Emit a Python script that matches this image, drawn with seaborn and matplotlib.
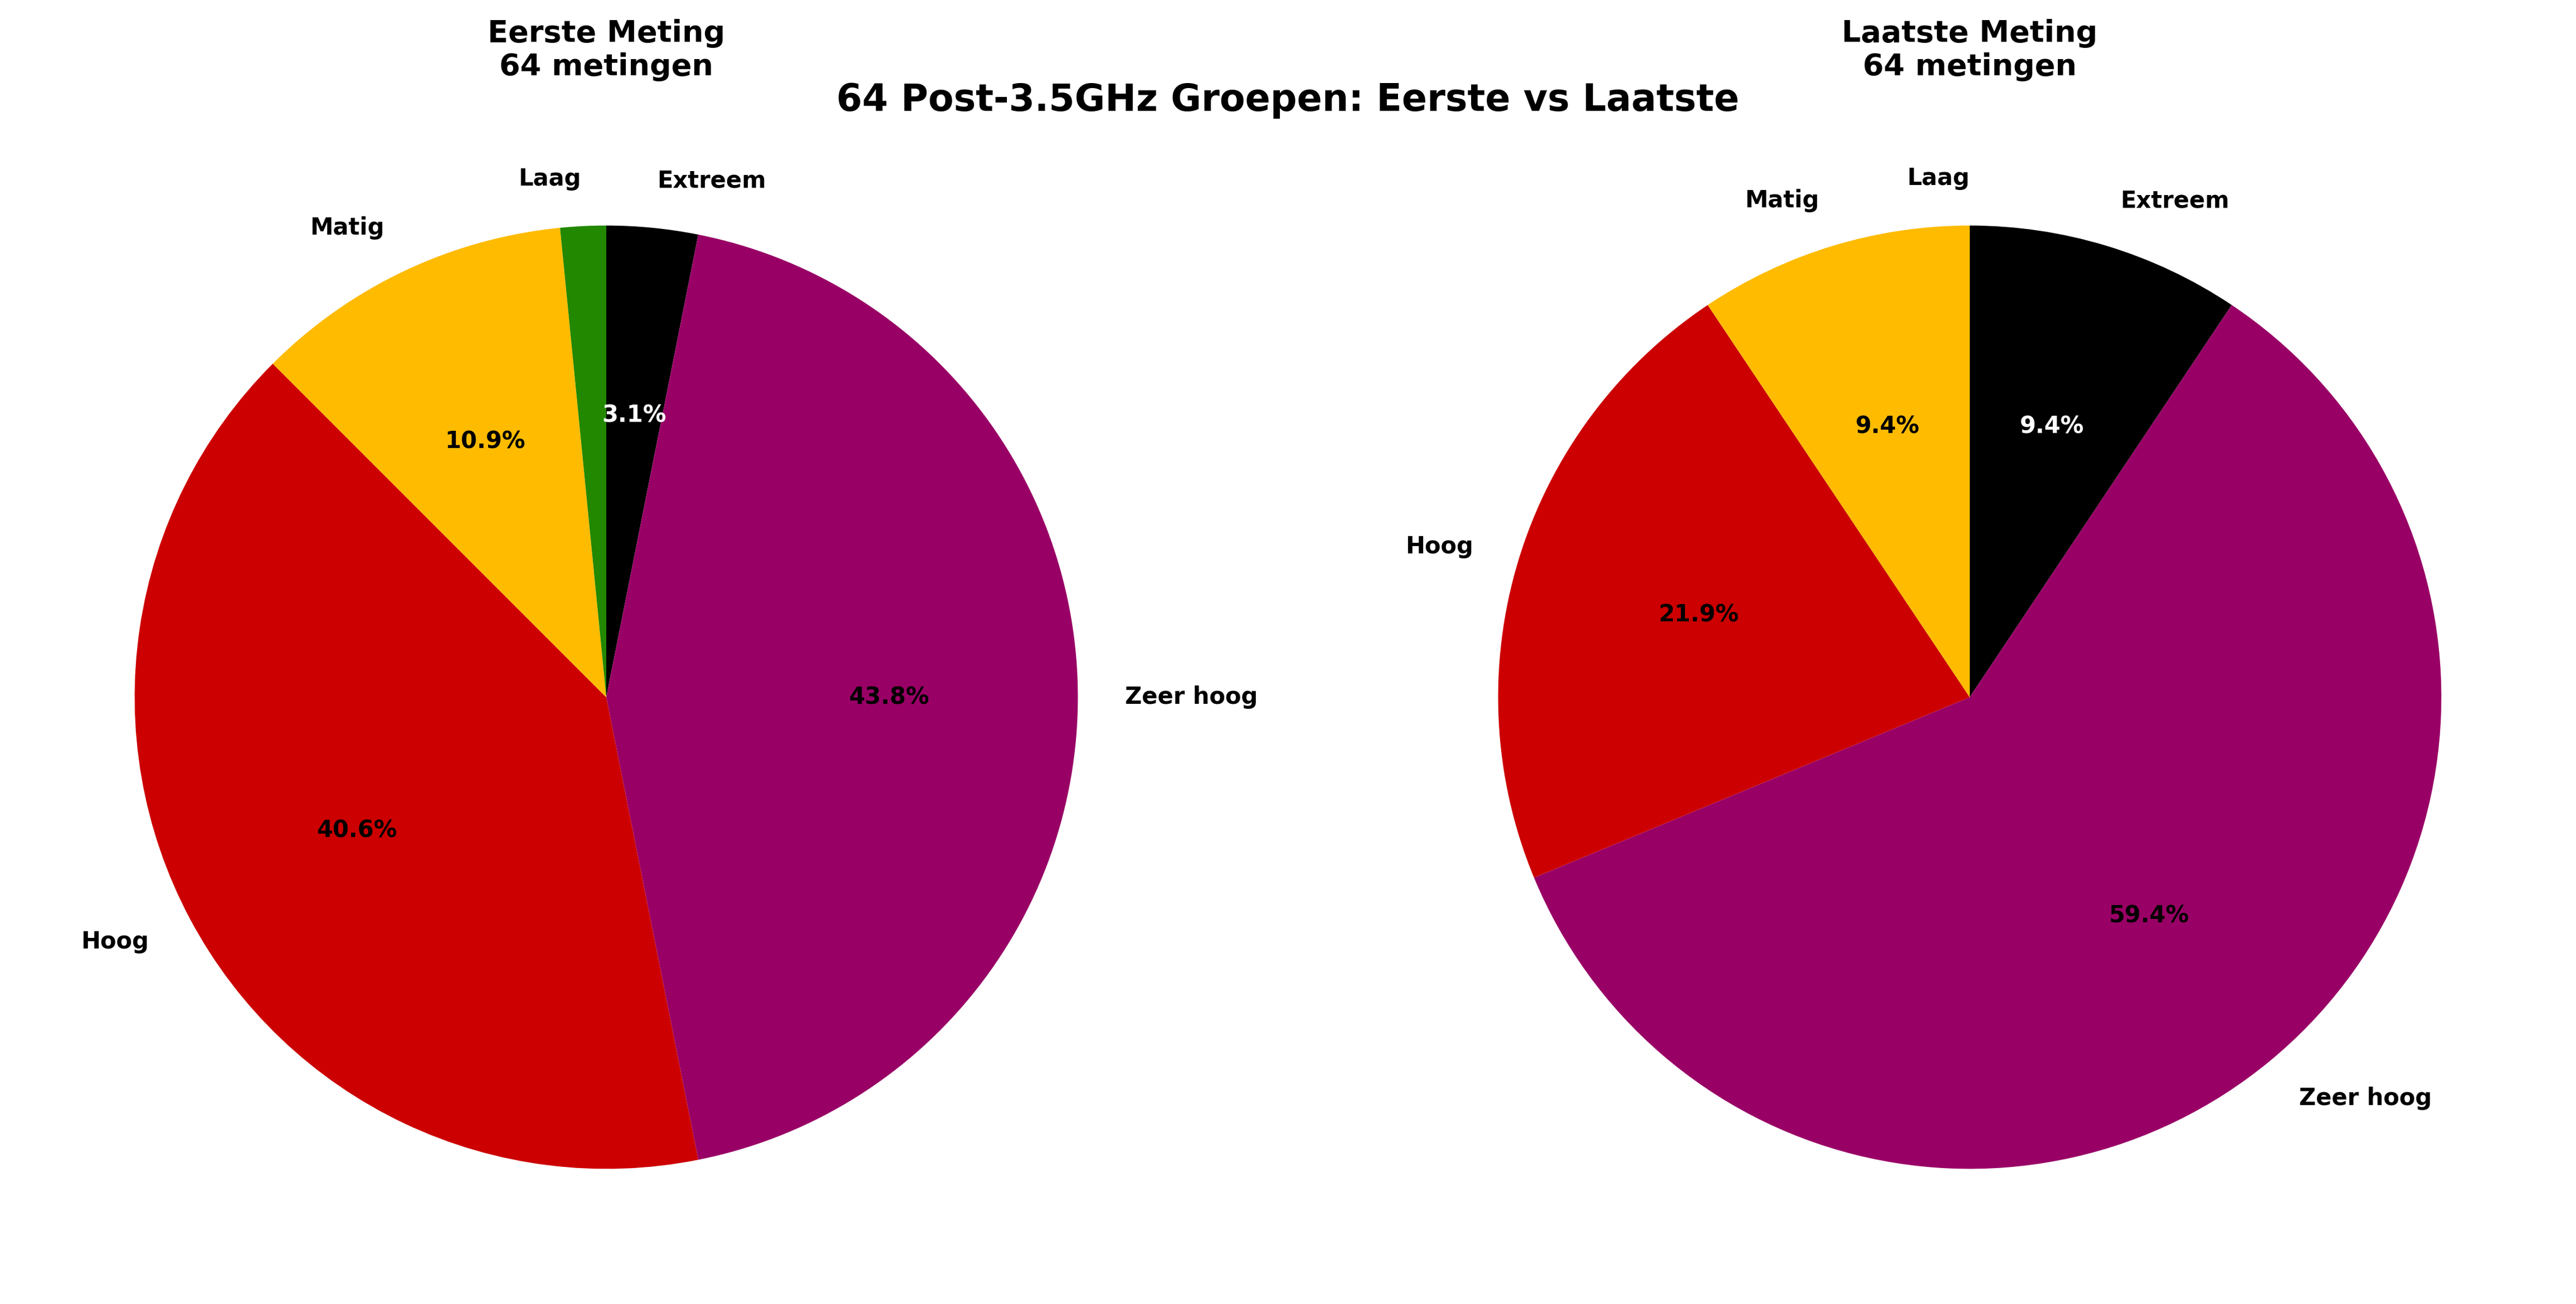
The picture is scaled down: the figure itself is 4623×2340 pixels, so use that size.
import matplotlib
matplotlib.use("Agg")
import matplotlib.pyplot as plt
import seaborn as sns

sns.set_theme(style="white", rc={"text.color": "black"})
plt.rcParams["font.family"] = ["DejaVu Sans"]

# Risk categories (pie order, clockwise from the top)
CATEGORIES = ["Extreem", "Zeer hoog", "Hoog", "Matig", "Laag"]
FIRST_COUNTS = [2, 28, 26, 7, 1]
LAST_COUNTS = [6, 38, 14, 6, 0]

CATEGORY_COLORS = {
    "Extreem": "#000000",
    "Zeer hoog": "#990066",
    "Hoog": "#CC0000",
    "Matig": "#FFBB00",
    "Laag": "#228800",
}

SUPTITLE = "64 Post-3.5GHz Groepen: Eerste vs Laatste"
PANEL_TITLES = ["Eerste Meting", "Laatste Meting"]


def fmt_pct(p):
    # hide the tiny slices
    return f"{p:.1f}%" if p > 2 else ""


def draw_pie(ax, counts, title):
    colors = [CATEGORY_COLORS[c] for c in CATEGORIES]
    wedges, texts, autotexts = ax.pie(
        counts,
        labels=CATEGORIES,
        colors=colors,
        autopct=fmt_pct,
        startangle=90,
        counterclock=False,
        wedgeprops={"linewidth": 0},
        textprops={"fontsize": 10, "fontweight": "bold", "color": "black"},
    )
    for cat, t in zip(CATEGORIES, autotexts):
        t.set_color("white" if cat == "Extreem" else "black")
    # empty slice sits exactly at the top, keep its label left of centre
    for n, t in zip(counts, texts):
        if n == 0:
            t.set_horizontalalignment("right")
    ax.set_title(f"{title}\n{sum(counts)} metingen", fontsize=13,
                 fontweight="bold", pad=14, color="black")


def main():
    fig = plt.figure(figsize=(15.41, 7.8), dpi=300)
    ax_left = fig.add_axes([0.0065, 0.0132, 0.4577, 0.9043])
    ax_right = fig.add_axes([0.5358, 0.0132, 0.4577, 0.9043])

    draw_pie(ax_left, FIRST_COUNTS, PANEL_TITLES[0])
    draw_pie(ax_right, LAST_COUNTS, PANEL_TITLES[1])

    fig.suptitle(SUPTITLE, fontsize=16, fontweight="bold", y=0.937, color="black")
    fig.savefig("out.png", dpi=300)
    plt.close(fig)


if __name__ == "__main__":
    main()
